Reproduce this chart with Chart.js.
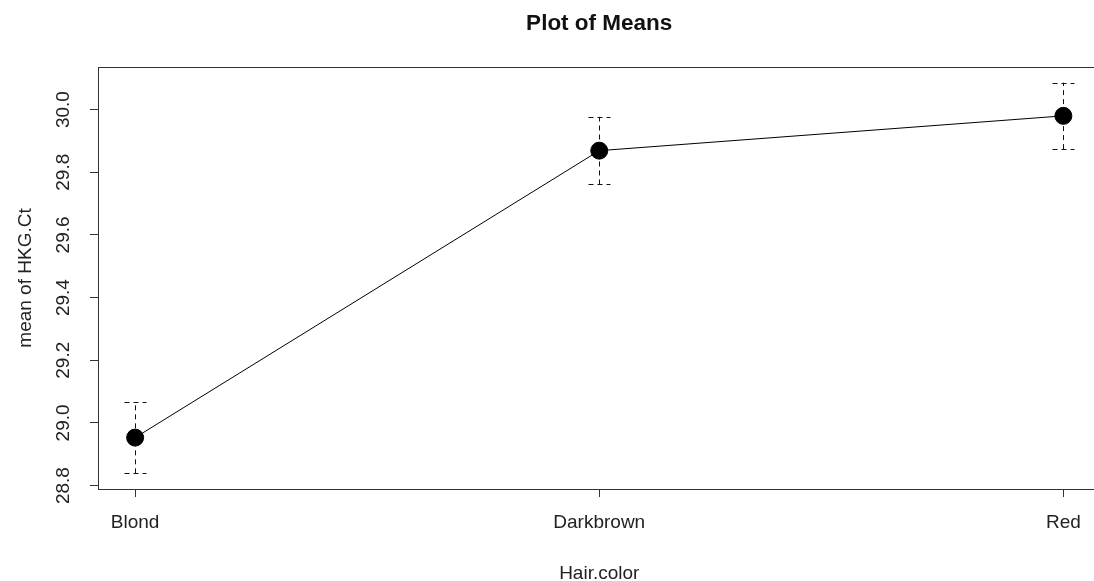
<!DOCTYPE html>
<html>
<head>
<meta charset="utf-8">
<script src="https://cdn.jsdelivr.net/npm/chart.js@4/dist/chart.umd.min.js"></script>
<style>
  html, body { margin: 0; padding: 0; background: #fff; overflow: hidden; width: 1094px; height: 581px; }
  #wrap { width: 1094px; height: 581px; overflow: hidden; position: relative; }
  #myChart { position: absolute; left: 0; top: 0; }
</style>
</head>
<body>
<div id="wrap"><canvas id="myChart" width="1110" height="581"></canvas></div>
<script>
// values
const categories = ['Blond', 'Darkbrown', 'Red'];
const means = [28.953, 29.869, 29.980];
const errHalf = [0.114, 0.108, 0.106];
const yTicks = [28.8, 29.0, 29.2, 29.4, 29.6, 29.8, 30.0];

const FONT = '"Liberation Sans", Arial, sans-serif';
const INK = '#222';

const points = categories.map((c, i) => ({ x: i + 1, y: means[i] }));

// box, error bars and rotated text (R style)
const rPlot = {
  id: 'rPlot',
  beforeDatasetsDraw(chart) {
    const ctx = chart.ctx, xs = chart.scales.x, ys = chart.scales.y;
    ctx.save();
    ctx.strokeStyle = '#111';
    ctx.lineWidth = 1;
    ctx.setLineDash([5, 4]);
    means.forEach((m, i) => {
      const px = Math.round(xs.getPixelForValue(i + 1)) + 0.5;
      const hi = ys.getPixelForValue(m + errHalf[i]);
      const lo = ys.getPixelForValue(m - errHalf[i]);
      ctx.beginPath();
      ctx.moveTo(px, lo); ctx.lineTo(px, hi);
      ctx.moveTo(px - 11, Math.round(hi) + 0.5); ctx.lineTo(px + 11, Math.round(hi) + 0.5);
      ctx.moveTo(px - 11, Math.round(lo) + 0.5); ctx.lineTo(px + 11, Math.round(lo) + 0.5);
      ctx.stroke();
    });
    ctx.restore();
  },
  afterDraw(chart) {
    const ctx = chart.ctx, a = chart.chartArea, ys = chart.scales.y;
    ctx.save();
    ctx.strokeStyle = '#333';
    ctx.lineWidth = 1;
    ctx.strokeRect(Math.round(a.left) + 0.5, Math.round(a.top) + 0.5,
                   Math.round(a.right - a.left), Math.round(a.bottom - a.top));
    ctx.fillStyle = INK;
    ctx.textAlign = 'center';
    ctx.textBaseline = 'middle';
    ctx.font = '19px ' + FONT;
    yTicks.forEach(v => {
      ctx.save();
      ctx.translate(64, ys.getPixelForValue(v));
      ctx.rotate(-Math.PI / 2);
      ctx.fillText(v.toFixed(1), 0, 0);
      ctx.restore();
    });
    ctx.save();
    ctx.translate(26, (a.top + a.bottom) / 2);
    ctx.rotate(-Math.PI / 2);
    ctx.fillText('mean of HKG.Ct', 0, 0);
    ctx.restore();
    const cx = (a.left + a.right) / 2;
    ctx.textBaseline = 'alphabetic';
    ctx.fillText('Hair.color', cx, 579);
    ctx.font = 'bold 22.5px ' + FONT;
    ctx.fillStyle = '#111';
    ctx.fillText('Plot of Means', cx, 30);
    ctx.restore();
  }
};

new Chart(document.getElementById('myChart'), {
  type: 'line',
  data: {
    datasets: [{
      data: points,
      borderColor: '#000',
      borderWidth: 1,
      pointRadius: 8.5,
      pointHoverRadius: 8.5,
      pointBackgroundColor: '#000',
      pointBorderColor: '#000',
      tension: 0
    }]
  },
  options: {
    responsive: false,
    animation: false,
    layout: { padding: { top: 67, right: 5, left: 0, bottom: 0 } },
    plugins: { legend: { display: false }, tooltip: { enabled: false }, title: { display: false } },
    scales: {
      x: {
        type: 'linear',
        min: 0.92,
        max: 3.08,
        afterBuildTicks: s => { s.ticks = categories.map((c, i) => ({ value: i + 1 })); },
        afterFit: s => { s.height = 92; },
        grid: { drawOnChartArea: false, drawTicks: true, tickLength: 8, tickColor: '#333' },
        border: { display: true, color: '#333' },
        ticks: {
          padding: 14,
          color: INK,
          font: { family: FONT, size: 19 },
          maxRotation: 0,
          callback: v => categories[v - 1]
        }
      },
      y: {
        type: 'linear',
        min: 28.789,
        max: 30.136,
        afterBuildTicks: s => { s.ticks = yTicks.map(v => ({ value: v })); },
        afterFit: s => { s.width = 98; },
        grid: { drawOnChartArea: false, drawTicks: true, tickLength: 8, tickColor: '#333' },
        border: { display: true, color: '#333' },
        ticks: { display: false }
      }
    }
  },
  plugins: [rPlot]
});
</script>
</body>
</html>
